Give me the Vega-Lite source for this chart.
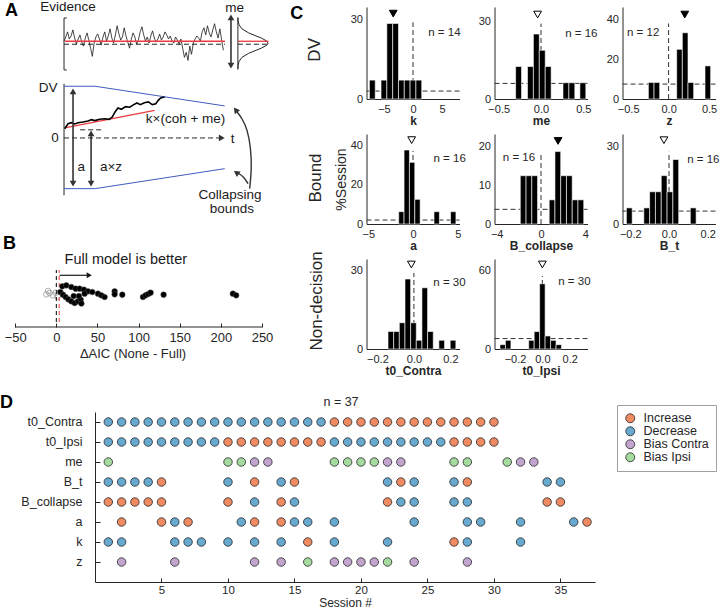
{
"$schema": "https://vega.github.io/schema/vega-lite/v6.json",
"padding": 0,
"background": "white",
"config": {
  "font": "Liberation Sans",
  "view": {"stroke": null},
  "axis": {"grid": false, "domainColor": "#262626", "labelColor": "#262626", "titleColor": "#262626", "tickColor": "#262626", "labelFlush": false, "labelOverlap": false, "ticks": false, "labelFontSize": 11, "titleFontSize": 12, "labelPadding": 4, "titlePadding": 1, "titleFontWeight": "bold"},
  "text": {"color": "#262626"}
},
"datasets": {
  "aev": [
    {"t":0,"v":95},{"t":1.1,"v":99},{"t":2.2,"v":104},{"t":3.3,"v":97},{"t":4.4,"v":100},{"t":5.5,"v":106},{"t":6.6,"v":98},{"t":7.7,"v":92},{"t":8.8,"v":97},{"t":9.9,"v":101},
    {"t":11,"v":94},{"t":12.1,"v":90},{"t":13.2,"v":98},{"t":14.3,"v":103},{"t":15.4,"v":96},{"t":16.5,"v":88},{"t":17.6,"v":80},{"t":18.7,"v":93},{"t":19.8,"v":99},{"t":20.9,"v":102},
    {"t":22,"v":97},{"t":23.1,"v":91},{"t":24.2,"v":99},{"t":25.3,"v":104},{"t":26.4,"v":95},{"t":27.5,"v":100},{"t":28.6,"v":107},{"t":29.7,"v":98},{"t":30.8,"v":93},{"t":31.9,"v":101},
    {"t":33,"v":110},{"t":34.1,"v":102},{"t":35.2,"v":96},{"t":36.3,"v":99},{"t":37.4,"v":108},{"t":38.5,"v":100},{"t":39.6,"v":94},{"t":40.7,"v":88},{"t":41.8,"v":97},{"t":42.9,"v":103},
    {"t":44,"v":99},{"t":45.1,"v":92},{"t":46.2,"v":96},{"t":47.3,"v":104},{"t":48.4,"v":109},{"t":49.5,"v":101},{"t":50.6,"v":95},{"t":51.7,"v":99},{"t":52.8,"v":93},{"t":53.9,"v":100},
    {"t":55,"v":105},{"t":56.1,"v":98},{"t":57.2,"v":94},{"t":58.3,"v":97},{"t":59.4,"v":102},{"t":60.5,"v":96},{"t":61.6,"v":99},{"t":62.7,"v":104},{"t":63.8,"v":101},{"t":64.9,"v":97},
    {"t":66,"v":100},{"t":67.1,"v":95},{"t":68.2,"v":93},{"t":69.3,"v":99},{"t":70.4,"v":96},{"t":71.5,"v":92},{"t":72.6,"v":97},{"t":73.7,"v":88},{"t":74.8,"v":79},{"t":75.9,"v":84},
    {"t":77,"v":76},{"t":78.1,"v":90},{"t":79.2,"v":82},{"t":80.3,"v":93},{"t":81.4,"v":97},{"t":82.5,"v":100},{"t":83.6,"v":98},{"t":84.7,"v":95},{"t":85.8,"v":104},{"t":86.9,"v":108},
    {"t":88,"v":101},{"t":89.1,"v":110},{"t":90.2,"v":103},{"t":91.3,"v":99},{"t":92.4,"v":106},{"t":93.5,"v":112},{"t":94.6,"v":104},{"t":95.7,"v":98},{"t":96.8,"v":107},{"t":97.9,"v":96},
    {"t":99,"v":86}
  ],
  "schem": [
    {"k":"thin","g":"br","i":0,"t":1.7,"y":117.6},{"k":"thin","g":"br","i":1,"t":0,"y":117.6},{"k":"thin","g":"br","i":2,"t":0,"y":66.7},{"k":"thin","g":"br","i":3,"t":1.7,"y":66.7},
    {"k":"thin","g":"dv","i":0,"t":0,"y":53.2},{"k":"thin","g":"dv","i":1,"t":0,"y":-56.2},
    {"k":"thin","g":"gv","i":0,"t":108,"y":118},{"k":"thin","g":"gv","i":1,"t":108,"y":67},
    {"k":"thin","g":"gc","i":0,"t":108,"y":118},{"k":"thin","g":"gc","i":1,"t":108.1,"y":115},{"k":"thin","g":"gc","i":2,"t":108.7,"y":111},{"k":"thin","g":"gc","i":3,"t":110.5,"y":107},{"k":"thin","g":"gc","i":4,"t":114.7,"y":103},{"k":"thin","g":"gc","i":5,"t":119.3,"y":100},{"k":"thin","g":"gc","i":6,"t":122.5,"y":98},{"k":"thin","g":"gc","i":7,"t":126,"y":95},{"k":"thin","g":"gc","i":8,"t":126.7,"y":93},{"k":"thin","g":"gc","i":9,"t":126,"y":91},{"k":"thin","g":"gc","i":10,"t":122.5,"y":88},{"k":"thin","g":"gc","i":11,"t":119.3,"y":86},{"k":"thin","g":"gc","i":12,"t":114.7,"y":83},{"k":"thin","g":"gc","i":13,"t":110.5,"y":79},{"k":"thin","g":"gc","i":14,"t":108.7,"y":75},{"k":"thin","g":"gc","i":15,"t":108.1,"y":71},{"k":"thin","g":"gc","i":16,"t":108,"y":68},
    {"k":"red","g":"evm","i":0,"t":0.6,"y":94.8},{"k":"red","g":"evm","i":1,"t":100,"y":94.8},
    {"k":"red","g":"gm","i":0,"t":108,"y":94.8},{"k":"red","g":"gm","i":1,"t":127,"y":94.8},
    {"k":"red","g":"dr","i":0,"t":0.4,"y":9.8},{"k":"red","g":"dr","i":1,"t":56.3,"y":27},
    {"k":"dash","g":"e0","i":0,"t":0,"y":91.9},{"k":"dash","g":"e0","i":1,"t":100,"y":91.9},
    {"k":"dash","g":"g0","i":0,"t":108,"y":91.9},{"k":"dash","g":"g0","i":1,"t":127,"y":91.9},
    {"k":"dash","g":"tx","i":0,"t":0,"y":0},{"k":"dash","g":"tx","i":1,"t":98,"y":0},
    {"k":"dash","g":"az","i":0,"t":10,"y":8},{"k":"dash","g":"az","i":1,"t":23,"y":8},
    {"k":"blue","g":"ub","i":0,"t":0,"y":50.7},{"k":"blue","g":"ub","i":1,"t":19.3,"y":50.7},{"k":"blue","g":"ub","i":2,"t":99.8,"y":31.4},
    {"k":"blue","g":"lb","i":0,"t":0,"y":-49.7},{"k":"blue","g":"lb","i":1,"t":19.3,"y":-49.7},{"k":"blue","g":"lb","i":2,"t":99.8,"y":-30.1},
    {"k":"traj","g":"tr","i":0,"t":0.4,"y":9.1},{"k":"traj","g":"tr","i":1,"t":2.5,"y":14},{"k":"traj","g":"tr","i":2,"t":4.5,"y":15},{"k":"traj","g":"tr","i":3,"t":6.6,"y":13.7},{"k":"traj","g":"tr","i":4,"t":8.7,"y":15},{"k":"traj","g":"tr","i":5,"t":11.8,"y":15.7},{"k":"traj","g":"tr","i":6,"t":14.9,"y":16.7},{"k":"traj","g":"tr","i":7,"t":17,"y":17.9},{"k":"traj","g":"tr","i":8,"t":19.1,"y":17},{"k":"traj","g":"tr","i":9,"t":22.2,"y":18.3},{"k":"traj","g":"tr","i":10,"t":25.3,"y":18.9},{"k":"traj","g":"tr","i":11,"t":28,"y":18.3},{"k":"traj","g":"tr","i":12,"t":30,"y":20.6},{"k":"traj","g":"tr","i":13,"t":31.7,"y":25.5},{"k":"traj","g":"tr","i":14,"t":33.5,"y":29.4},{"k":"traj","g":"tr","i":15,"t":35.6,"y":28.1},{"k":"traj","g":"tr","i":16,"t":38.3,"y":30.7},{"k":"traj","g":"tr","i":17,"t":40.8,"y":30.1},{"k":"traj","g":"tr","i":18,"t":43.3,"y":32.7},{"k":"traj","g":"tr","i":19,"t":45.3,"y":34.3},{"k":"traj","g":"tr","i":20,"t":47.4,"y":32.7},{"k":"traj","g":"tr","i":21,"t":49.9,"y":34.6},{"k":"traj","g":"tr","i":22,"t":52.4,"y":35.3},{"k":"traj","g":"tr","i":23,"t":54.8,"y":32.7},{"k":"traj","g":"tr","i":24,"t":57,"y":33.6},{"k":"traj","g":"tr","i":25,"t":58.4,"y":36.6},{"k":"traj","g":"tr","i":26,"t":60,"y":39.2},{"k":"traj","g":"tr","i":27,"t":62.5,"y":40.2},
    {"k":"arr","g":"me","i":0,"t":103.7,"y":70.9},{"k":"arr","g":"me","i":1,"t":103.7,"y":118.3},
    {"k":"arr","g":"a","i":0,"t":5.6,"y":45.7},{"k":"arr","g":"a","i":1,"t":5.6,"y":-44.7},
    {"k":"arr","g":"az2","i":0,"t":16.8,"y":4.5},{"k":"arr","g":"az2","i":1,"t":16.8,"y":-44.7},
    {"k":"curve","g":"cu","i":0,"t":115.3,"y":-49.7},{"k":"curve","g":"cu","i":1,"t":116.6,"y":-30},{"k":"curve","g":"cu","i":2,"t":116,"y":-10},{"k":"curve","g":"cu","i":3,"t":114,"y":8},{"k":"curve","g":"cu","i":4,"t":110.5,"y":19.5},{"k":"curve","g":"cu","i":5,"t":107.5,"y":25.5},
    {"k":"curve","g":"cl","i":0,"t":114.3,"y":-44.8},{"k":"curve","g":"cl","i":1,"t":111.5,"y":-38},{"k":"curve","g":"cl","i":2,"t":108.5,"y":-34.8}
  ],
  "heads": [
    {"t":103.7,"y":118.3,"ang":0},{"t":103.7,"y":70.9,"ang":180},
    {"t":5.6,"y":45.7,"ang":0},{"t":5.6,"y":-44.7,"ang":180},
    {"t":16.8,"y":4.5,"ang":0},{"t":16.8,"y":-44.7,"ang":180},
    {"t":98,"y":0,"ang":90},
    {"t":106.6,"y":27.5,"ang":322},{"t":107,"y":-34,"ang":303}
  ],
  "atext": [
    {"txt":"Evidence","t":2.5,"y":128.4},{"txt":"me","t":106,"y":127.5},{"txt":"DV","t":-9.9,"y":49},
    {"txt":"0","t":-5.6,"y":0},{"txt":"t","t":104.7,"y":-1.5},{"txt":"k×(coh + me)","t":75.5,"y":18.6},
    {"txt":"a","t":10.7,"y":-28.4},{"txt":"a×z","t":29.2,"y":-28.4},
    {"txt":"Collapsing","t":103.1,"y":-55.9},{"txt":"bounds","t":104.3,"y":-69.6}
  ],
  "aic": [
    {"d":7.3,"j":40.7,"full":true},{"d":12.1,"j":41.7,"full":true},{"d":18.2,"j":40,"full":true},{"d":23.5,"j":38.3,"full":true},{"d":28.3,"j":38.3,"full":true},{"d":33.6,"j":37.3,"full":true},{"d":38.5,"j":35.7,"full":true},{"d":43.7,"j":35,"full":true},{"d":50.6,"j":33.3,"full":true},{"d":54.7,"j":31.7,"full":true},{"d":58.7,"j":30,"full":true},{"d":70.9,"j":35.7,"full":true},{"d":70.9,"j":32.7,"full":true},{"d":80.2,"j":32.3,"full":true},{"d":105.3,"j":30,"full":true},{"d":108.5,"j":31.7,"full":true},{"d":111.7,"j":33,"full":true},{"d":114.6,"j":34.3,"full":true},{"d":130.4,"j":32.3,"full":true},{"d":214.6,"j":33.3,"full":true},{"d":218.6,"j":31.7,"full":true},
    {"d":4.9,"j":35,"full":true},{"d":8.1,"j":32.3,"full":true},{"d":11.3,"j":30,"full":true},{"d":14.6,"j":27.7,"full":true},{"d":18.2,"j":25.7,"full":true},{"d":22.3,"j":24,"full":true},{"d":26.3,"j":25.7,"full":true},{"d":29.6,"j":27.3,"full":true},{"d":30.5,"j":23.5,"full":true},{"d":21.1,"j":31,"full":true},{"d":27.5,"j":31,"full":true},{"d":34.4,"j":33.3,"full":true},
    {"d":-12.1,"j":32.7,"full":false},{"d":-8.1,"j":34,"full":false},{"d":-4,"j":31.7,"full":false},{"d":-0.8,"j":34.3,"full":false},{"d":-10,"j":36,"full":false},{"d":1.5,"j":30.5,"full":false}
  ],
  "hist": [
    {"p":"k","lo":-7.5,"hi":-6.5,"pct":7.14},{"p":"k","lo":-5.5,"hi":-4.5,"pct":7.14},{"p":"k","lo":-4.5,"hi":-3.5,"pct":28.57},{"p":"k","lo":-3.5,"hi":-2.5,"pct":28.57},{"p":"k","lo":-2.5,"hi":-1.5,"pct":7.14},{"p":"k","lo":-1.5,"hi":-0.5,"pct":7.14},{"p":"k","lo":-0.5,"hi":0.5,"pct":7.14},{"p":"k","lo":0.5,"hi":1.5,"pct":7.14},
    {"p":"me","lo":-0.3,"hi":-0.23,"pct":12.5},{"p":"me","lo":-0.16,"hi":-0.09,"pct":12.5},{"p":"me","lo":-0.09,"hi":-0.02,"pct":25},{"p":"me","lo":-0.02,"hi":0.05,"pct":18.75},{"p":"me","lo":0.05,"hi":0.12,"pct":12.5},{"p":"me","lo":0.26,"hi":0.33,"pct":6.25},{"p":"me","lo":0.33,"hi":0.4,"pct":6.25},{"p":"me","lo":0.46,"hi":0.53,"pct":6.25},
    {"p":"z","lo":-0.25,"hi":-0.18,"pct":8.33},{"p":"z","lo":-0.18,"hi":-0.11,"pct":8.33},{"p":"z","lo":0.1,"hi":0.17,"pct":25},{"p":"z","lo":0.17,"hi":0.24,"pct":33.33},{"p":"z","lo":0.24,"hi":0.31,"pct":8.33},{"p":"z","lo":0.45,"hi":0.52,"pct":16.67},
    {"p":"a","lo":-1.6,"hi":-1,"pct":6.25},{"p":"a","lo":-1,"hi":-0.4,"pct":37.5},{"p":"a","lo":-0.4,"hi":0.2,"pct":31.25},{"p":"a","lo":0.2,"hi":0.8,"pct":12.5},{"p":"a","lo":2.35,"hi":2.95,"pct":6.25},{"p":"a","lo":4.2,"hi":4.8,"pct":6.25},
    {"p":"B_collapse","lo":-1.87,"hi":-1.35,"pct":12.5},{"p":"B_collapse","lo":-1.35,"hi":-0.83,"pct":12.5},{"p":"B_collapse","lo":-0.83,"hi":-0.31,"pct":12.5},{"p":"B_collapse","lo":0.74,"hi":1.26,"pct":6.25},{"p":"B_collapse","lo":1.26,"hi":1.78,"pct":18.75},{"p":"B_collapse","lo":1.78,"hi":2.3,"pct":12.5},{"p":"B_collapse","lo":2.3,"hi":2.82,"pct":12.5},{"p":"B_collapse","lo":2.82,"hi":3.34,"pct":6.25},{"p":"B_collapse","lo":3.34,"hi":3.86,"pct":6.25},
    {"p":"B_t","lo":-0.22,"hi":-0.19,"pct":6.25},{"p":"B_t","lo":-0.13,"hi":-0.1,"pct":6.25},{"p":"B_t","lo":-0.1,"hi":-0.07,"pct":12.5},{"p":"B_t","lo":-0.07,"hi":-0.04,"pct":12.5},{"p":"B_t","lo":-0.04,"hi":-0.01,"pct":18.75},{"p":"B_t","lo":-0.01,"hi":0.02,"pct":12.5},{"p":"B_t","lo":0.02,"hi":0.05,"pct":25},{"p":"B_t","lo":0.11,"hi":0.14,"pct":6.25},
    {"p":"t0_Contra","lo":-0.142,"hi":-0.111,"pct":6.67},{"p":"t0_Contra","lo":-0.111,"hi":-0.08,"pct":6.67},{"p":"t0_Contra","lo":-0.08,"hi":-0.049,"pct":10},{"p":"t0_Contra","lo":-0.049,"hi":-0.018,"pct":26.67},{"p":"t0_Contra","lo":-0.018,"hi":0.013,"pct":10},{"p":"t0_Contra","lo":0.013,"hi":0.044,"pct":3.33},{"p":"t0_Contra","lo":0.044,"hi":0.075,"pct":23.33},{"p":"t0_Contra","lo":0.075,"hi":0.106,"pct":6.67},{"p":"t0_Contra","lo":0.137,"hi":0.168,"pct":3.33},{"p":"t0_Contra","lo":0.199,"hi":0.23,"pct":3.33},
    {"p":"t0_Ipsi","lo":-0.31,"hi":-0.27,"pct":3.33},{"p":"t0_Ipsi","lo":-0.27,"hi":-0.23,"pct":6.67},{"p":"t0_Ipsi","lo":-0.1,"hi":-0.06,"pct":6.67},{"p":"t0_Ipsi","lo":-0.06,"hi":-0.02,"pct":13.33},{"p":"t0_Ipsi","lo":-0.02,"hi":0.02,"pct":50},{"p":"t0_Ipsi","lo":0.02,"hi":0.06,"pct":10},{"p":"t0_Ipsi","lo":0.06,"hi":0.1,"pct":6.67},{"p":"t0_Ipsi","lo":0.1,"hi":0.14,"pct":3.33}
  ],
  "stats": [
    {"p":"k","label":"n = 14","med":-3.4,"sig":true,"ch":3},
    {"p":"me","label":"n = 16","med":-0.04,"sig":false,"ch":6},
    {"p":"z","label":"n = 12","med":0.2,"sig":true,"ch":7.5},
    {"p":"a","label":"n = 16","med":-0.15,"sig":false,"ch":2},
    {"p":"B_collapse","label":"n = 16","med":1.54,"sig":true,"ch":3.8},
    {"p":"B_t","label":"n = 16","med":-0.026,"sig":false,"ch":5},
    {"p":"t0_Contra","label":"n = 30","med":-0.014,"sig":false,"ch":null},
    {"p":"t0_Ipsi","label":"n = 30","med":0,"sig":false,"ch":8}
  ],
  "sess": [
    {"p":"t0_Contra","s":1,"c":"Decrease"},{"p":"t0_Contra","s":2,"c":"Decrease"},{"p":"t0_Contra","s":3,"c":"Decrease"},{"p":"t0_Contra","s":4,"c":"Decrease"},{"p":"t0_Contra","s":5,"c":"Decrease"},{"p":"t0_Contra","s":6,"c":"Decrease"},{"p":"t0_Contra","s":7,"c":"Decrease"},{"p":"t0_Contra","s":8,"c":"Decrease"},{"p":"t0_Contra","s":9,"c":"Decrease"},{"p":"t0_Contra","s":10,"c":"Decrease"},{"p":"t0_Contra","s":11,"c":"Decrease"},{"p":"t0_Contra","s":12,"c":"Decrease"},{"p":"t0_Contra","s":13,"c":"Decrease"},{"p":"t0_Contra","s":14,"c":"Decrease"},{"p":"t0_Contra","s":15,"c":"Decrease"},{"p":"t0_Contra","s":16,"c":"Decrease"},{"p":"t0_Contra","s":17,"c":"Decrease"},{"p":"t0_Contra","s":18,"c":"Increase"},{"p":"t0_Contra","s":19,"c":"Increase"},{"p":"t0_Contra","s":20,"c":"Increase"},{"p":"t0_Contra","s":21,"c":"Increase"},{"p":"t0_Contra","s":22,"c":"Increase"},{"p":"t0_Contra","s":23,"c":"Increase"},{"p":"t0_Contra","s":24,"c":"Increase"},{"p":"t0_Contra","s":25,"c":"Increase"},{"p":"t0_Contra","s":26,"c":"Increase"},{"p":"t0_Contra","s":27,"c":"Increase"},{"p":"t0_Contra","s":28,"c":"Increase"},{"p":"t0_Contra","s":29,"c":"Increase"},{"p":"t0_Contra","s":30,"c":"Increase"},
    {"p":"t0_Ipsi","s":1,"c":"Decrease"},{"p":"t0_Ipsi","s":2,"c":"Decrease"},{"p":"t0_Ipsi","s":3,"c":"Decrease"},{"p":"t0_Ipsi","s":4,"c":"Decrease"},{"p":"t0_Ipsi","s":5,"c":"Decrease"},{"p":"t0_Ipsi","s":6,"c":"Decrease"},{"p":"t0_Ipsi","s":7,"c":"Decrease"},{"p":"t0_Ipsi","s":8,"c":"Decrease"},{"p":"t0_Ipsi","s":9,"c":"Decrease"},{"p":"t0_Ipsi","s":10,"c":"Increase"},{"p":"t0_Ipsi","s":11,"c":"Increase"},{"p":"t0_Ipsi","s":12,"c":"Increase"},{"p":"t0_Ipsi","s":13,"c":"Increase"},{"p":"t0_Ipsi","s":14,"c":"Increase"},{"p":"t0_Ipsi","s":15,"c":"Increase"},{"p":"t0_Ipsi","s":16,"c":"Increase"},{"p":"t0_Ipsi","s":17,"c":"Increase"},{"p":"t0_Ipsi","s":18,"c":"Decrease"},{"p":"t0_Ipsi","s":19,"c":"Decrease"},{"p":"t0_Ipsi","s":20,"c":"Decrease"},{"p":"t0_Ipsi","s":21,"c":"Decrease"},{"p":"t0_Ipsi","s":22,"c":"Decrease"},{"p":"t0_Ipsi","s":23,"c":"Decrease"},{"p":"t0_Ipsi","s":24,"c":"Decrease"},{"p":"t0_Ipsi","s":25,"c":"Decrease"},{"p":"t0_Ipsi","s":26,"c":"Decrease"},{"p":"t0_Ipsi","s":27,"c":"Increase"},{"p":"t0_Ipsi","s":28,"c":"Increase"},{"p":"t0_Ipsi","s":29,"c":"Increase"},{"p":"t0_Ipsi","s":30,"c":"Increase"},
    {"p":"me","s":1,"c":"Bias Ipsi"},{"p":"me","s":10,"c":"Bias Ipsi"},{"p":"me","s":11,"c":"Bias Ipsi"},{"p":"me","s":12,"c":"Bias Contra"},{"p":"me","s":13,"c":"Bias Contra"},{"p":"me","s":18,"c":"Bias Ipsi"},{"p":"me","s":19,"c":"Bias Ipsi"},{"p":"me","s":20,"c":"Bias Ipsi"},{"p":"me","s":21,"c":"Bias Ipsi"},{"p":"me","s":22,"c":"Bias Contra"},{"p":"me","s":23,"c":"Bias Contra"},{"p":"me","s":27,"c":"Bias Ipsi"},{"p":"me","s":28,"c":"Bias Ipsi"},{"p":"me","s":31,"c":"Bias Ipsi"},{"p":"me","s":32,"c":"Bias Contra"},{"p":"me","s":33,"c":"Bias Contra"},
    {"p":"B_t","s":1,"c":"Decrease"},{"p":"B_t","s":2,"c":"Decrease"},{"p":"B_t","s":3,"c":"Decrease"},{"p":"B_t","s":4,"c":"Decrease"},{"p":"B_t","s":5,"c":"Increase"},{"p":"B_t","s":10,"c":"Decrease"},{"p":"B_t","s":12,"c":"Increase"},{"p":"B_t","s":14,"c":"Decrease"},{"p":"B_t","s":15,"c":"Increase"},{"p":"B_t","s":22,"c":"Decrease"},{"p":"B_t","s":23,"c":"Increase"},{"p":"B_t","s":24,"c":"Decrease"},{"p":"B_t","s":27,"c":"Decrease"},{"p":"B_t","s":28,"c":"Increase"},{"p":"B_t","s":34,"c":"Decrease"},{"p":"B_t","s":35,"c":"Decrease"},
    {"p":"B_collapse","s":1,"c":"Increase"},{"p":"B_collapse","s":2,"c":"Increase"},{"p":"B_collapse","s":3,"c":"Increase"},{"p":"B_collapse","s":4,"c":"Increase"},{"p":"B_collapse","s":5,"c":"Increase"},{"p":"B_collapse","s":10,"c":"Increase"},{"p":"B_collapse","s":12,"c":"Decrease"},{"p":"B_collapse","s":14,"c":"Increase"},{"p":"B_collapse","s":15,"c":"Decrease"},{"p":"B_collapse","s":22,"c":"Increase"},{"p":"B_collapse","s":23,"c":"Decrease"},{"p":"B_collapse","s":24,"c":"Decrease"},{"p":"B_collapse","s":27,"c":"Decrease"},{"p":"B_collapse","s":28,"c":"Decrease"},{"p":"B_collapse","s":34,"c":"Increase"},{"p":"B_collapse","s":35,"c":"Increase"},
    {"p":"a","s":2,"c":"Increase"},{"p":"a","s":5,"c":"Increase"},{"p":"a","s":6,"c":"Decrease"},{"p":"a","s":7,"c":"Increase"},{"p":"a","s":11,"c":"Decrease"},{"p":"a","s":12,"c":"Increase"},{"p":"a","s":14,"c":"Increase"},{"p":"a","s":15,"c":"Decrease"},{"p":"a","s":16,"c":"Decrease"},{"p":"a","s":18,"c":"Decrease"},{"p":"a","s":24,"c":"Decrease"},{"p":"a","s":28,"c":"Decrease"},{"p":"a","s":29,"c":"Decrease"},{"p":"a","s":32,"c":"Decrease"},{"p":"a","s":36,"c":"Decrease"},{"p":"a","s":37,"c":"Increase"},
    {"p":"k","s":1,"c":"Decrease"},{"p":"k","s":2,"c":"Decrease"},{"p":"k","s":6,"c":"Decrease"},{"p":"k","s":7,"c":"Decrease"},{"p":"k","s":8,"c":"Decrease"},{"p":"k","s":10,"c":"Decrease"},{"p":"k","s":12,"c":"Decrease"},{"p":"k","s":14,"c":"Decrease"},{"p":"k","s":16,"c":"Increase"},{"p":"k","s":18,"c":"Decrease"},{"p":"k","s":22,"c":"Decrease"},{"p":"k","s":27,"c":"Increase"},{"p":"k","s":28,"c":"Decrease"},{"p":"k","s":32,"c":"Decrease"},
    {"p":"z","s":2,"c":"Bias Contra"},{"p":"z","s":6,"c":"Bias Contra"},{"p":"z","s":12,"c":"Bias Contra"},{"p":"z","s":14,"c":"Bias Contra"},{"p":"z","s":16,"c":"Bias Ipsi"},{"p":"z","s":18,"c":"Bias Contra"},{"p":"z","s":19,"c":"Bias Contra"},{"p":"z","s":20,"c":"Bias Contra"},{"p":"z","s":21,"c":"Bias Contra"},{"p":"z","s":22,"c":"Bias Ipsi"},{"p":"z","s":24,"c":"Bias Contra"},{"p":"z","s":28,"c":"Bias Contra"}
  ]
},
"spacing": 18,
"vconcat": [
 {
  "spacing": 2.5,
  "hconcat": [
   {
    "spacing": 6,
    "bounds": "flush",
    "vconcat": [
     {
      "width": 284, "height": 225,
      "layer": [
       {"data": {"name": "schem"}, "transform": [{"filter": "datum.k == 'thin'"}], "mark": {"type": "line", "color": "#262626", "strokeWidth": 1}, "encoding": {"x": {"field": "t", "type": "quantitative", "scale": {"domain": [-37.9, 138.5], "nice": false, "zero": false}, "axis": null}, "y": {"field": "y", "type": "quantitative", "scale": {"domain": [-92.2, 128.4], "nice": false, "zero": false}, "axis": null}, "detail": {"field": "g"}, "order": {"field": "i"}}},
       {"data": {"name": "schem"}, "transform": [{"filter": "datum.k == 'dash'"}], "mark": {"type": "line", "color": "#262626", "strokeWidth": 1, "strokeDash": [5, 3]}, "encoding": {"x": {"field": "t", "type": "quantitative"}, "y": {"field": "y", "type": "quantitative"}, "detail": {"field": "g"}, "order": {"field": "i"}}},
       {"data": {"name": "aev"}, "mark": {"type": "line", "color": "#1a1a1a", "strokeWidth": 0.8}, "encoding": {"x": {"field": "t", "type": "quantitative"}, "y": {"field": "v", "type": "quantitative"}}},
       {"data": {"name": "schem"}, "transform": [{"filter": "datum.k == 'red'"}], "mark": {"type": "line", "color": "#ec3a3f", "strokeWidth": 1.3}, "encoding": {"x": {"field": "t", "type": "quantitative"}, "y": {"field": "y", "type": "quantitative"}, "detail": {"field": "g"}, "order": {"field": "i"}}},
       {"data": {"name": "schem"}, "transform": [{"filter": "datum.k == 'blue'"}], "mark": {"type": "line", "color": "#3f5bbf", "strokeWidth": 1}, "encoding": {"x": {"field": "t", "type": "quantitative"}, "y": {"field": "y", "type": "quantitative"}, "detail": {"field": "g"}, "order": {"field": "i"}}},
       {"data": {"name": "schem"}, "transform": [{"filter": "datum.k == 'traj'"}], "mark": {"type": "line", "color": "black", "strokeWidth": 1.6}, "encoding": {"x": {"field": "t", "type": "quantitative"}, "y": {"field": "y", "type": "quantitative"}, "detail": {"field": "g"}, "order": {"field": "i"}}},
       {"data": {"name": "schem"}, "transform": [{"filter": "datum.k == 'arr'"}], "mark": {"type": "line", "color": "#333333", "strokeWidth": 1.6}, "encoding": {"x": {"field": "t", "type": "quantitative"}, "y": {"field": "y", "type": "quantitative"}, "detail": {"field": "g"}, "order": {"field": "i"}}},
       {"data": {"name": "schem"}, "transform": [{"filter": "datum.k == 'curve'"}], "mark": {"type": "line", "color": "#333333", "strokeWidth": 1.4, "interpolate": "basis"}, "encoding": {"x": {"field": "t", "type": "quantitative"}, "y": {"field": "y", "type": "quantitative"}, "detail": {"field": "g"}, "order": {"field": "i"}}},
       {"data": {"name": "heads"}, "mark": {"type": "point", "shape": "triangle-up", "filled": true, "color": "#333333", "size": 45, "opacity": 1}, "encoding": {"x": {"field": "t", "type": "quantitative"}, "y": {"field": "y", "type": "quantitative"}, "angle": {"field": "ang", "type": "quantitative", "scale": null}}},
       {"data": {"name": "atext"}, "mark": {"type": "text", "fontSize": 13.5, "align": "center", "baseline": "middle", "color": "#1a1a1a"}, "encoding": {"x": {"field": "t", "type": "quantitative"}, "y": {"field": "y", "type": "quantitative"}, "text": {"field": "txt"}}},
       {"data": {"values": [{}]}, "mark": {"type": "text", "text": "A", "fontSize": 18, "fontWeight": "bold", "align": "left", "baseline": "middle", "color": "black"}, "encoding": {"x": {"datum": -36.6, "type": "quantitative"}, "y": {"datum": 124.5, "type": "quantitative"}}}
      ]
     },
     {
      "width": 259, "height": 89,
      "layer": [
       {"data": {"name": "aic"}, "transform": [{"filter": "!datum.full"}], "mark": {"type": "point", "size": 32, "stroke": "#9a9a9a", "strokeWidth": 0.8, "fill": "white", "fillOpacity": 0, "opacity": 1}, "encoding": {"x": {"field": "d", "type": "quantitative", "scale": {"domain": [-64.8, 250], "nice": false, "zero": false}, "axis": {"values": [-50, 0, 50, 100, 150, 200, 250], "domain": false, "ticks": true, "tickSize": -4, "labelPadding": 8, "labelFontSize": 13, "title": "ΔAIC (None - Full)", "titleFontSize": 13, "titleFontWeight": "normal", "titlePadding": 3}}, "y": {"field": "j", "type": "quantitative", "scale": {"domain": [0, 89], "nice": false, "zero": false}, "axis": null}}},
       {"data": {"values": [{}]}, "mark": {"type": "rule", "color": "#262626", "strokeWidth": 1}, "encoding": {"x": {"datum": -50, "type": "quantitative"}, "x2": {"datum": 250}, "y": {"datum": 0, "type": "quantitative"}}},
       {"data": {"values": [{}]}, "mark": {"type": "rule", "strokeDash": [4, 3], "color": "black", "strokeWidth": 1}, "encoding": {"x": {"datum": 0, "type": "quantitative"}, "y": {"datum": 5, "type": "quantitative"}, "y2": {"datum": 57}}},
       {"data": {"values": [{}]}, "mark": {"type": "rule", "strokeDash": [4, 3], "color": "#ec3a3f", "strokeWidth": 1}, "encoding": {"x": {"datum": 3.5, "type": "quantitative"}, "y": {"datum": 5, "type": "quantitative"}, "y2": {"datum": 57}}},
       {"data": {"name": "aic"}, "transform": [{"filter": "datum.full"}], "mark": {"type": "point", "size": 32, "filled": true, "color": "black", "stroke": "#555555", "strokeWidth": 0.5, "opacity": 1}, "encoding": {"x": {"field": "d", "type": "quantitative"}, "y": {"field": "j", "type": "quantitative"}}},
       {"data": {"values": [{}]}, "mark": {"type": "rule", "color": "#1a1a1a", "strokeWidth": 1.2}, "encoding": {"x": {"datum": 4, "type": "quantitative"}, "x2": {"datum": 38}, "y": {"datum": 51.7, "type": "quantitative"}}},
       {"data": {"values": [{}]}, "mark": {"type": "point", "shape": "triangle-right", "filled": true, "color": "#1a1a1a", "size": 35, "opacity": 1}, "encoding": {"x": {"datum": 40, "type": "quantitative"}, "y": {"datum": 51.7, "type": "quantitative"}}},
       {"data": {"values": [{}]}, "mark": {"type": "text", "text": "Full model is better", "fontSize": 14.5, "align": "left", "baseline": "middle", "color": "#1a1a1a"}, "encoding": {"x": {"datum": 10, "type": "quantitative"}, "y": {"datum": 67, "type": "quantitative"}}},
       {"data": {"values": [{}]}, "mark": {"type": "text", "text": "B", "fontSize": 18, "fontWeight": "bold", "align": "left", "baseline": "middle", "color": "black"}, "encoding": {"x": {"datum": -64.8, "type": "quantitative"}, "y": {"datum": 83, "type": "quantitative"}}}
      ]
     }
    ]
   },
   {
    "columns": 3,
    "bounds": "flush",
    "spacing": {"row": 35, "column": 35},
    "concat": [
     {
      "width": 93, "height": 92, "data": {"name": "stats"},
      "layer": [
       {"transform": [{"filter": "datum.p == 'k'"}], "mark": {"type": "rule", "strokeDash": [5, 3], "color": "#333333", "strokeWidth": 1}, "encoding": {"y": {"field": "ch", "type": "quantitative"}}},
       {"transform": [{"filter": "datum.p == 'k'"}], "mark": {"type": "rule", "strokeDash": [5, 3], "color": "#333333", "strokeWidth": 1}, "encoding": {"x": {"datum": 0, "type": "quantitative"}, "y": {"datum": 0, "type": "quantitative"}, "y2": {"datum": 29}}},
       {"data": {"name": "hist"}, "transform": [{"filter": "datum.p == 'k'"}], "mark": {"type": "rect", "fill": "black", "stroke": "white", "strokeWidth": 0.6}, "encoding": {"x": {"field": "lo", "type": "quantitative", "scale": {"domain": [-8, 8], "nice": false, "zero": false}, "axis": {"values": [-5, 0, 5], "title": "k"}}, "x2": {"field": "hi"}, "y": {"field": "pct", "type": "quantitative", "scale": {"domain": [0, 34.8], "nice": false}, "axis": {"values": [0, 10, 20, 30], "title": null}}, "y2": {"datum": 0}}},
       {"transform": [{"filter": "datum.p == 'k'"}], "mark": {"type": "point", "shape": "triangle-down", "size": 60, "stroke": "black", "strokeWidth": 1, "opacity": 1}, "encoding": {"x": {"field": "med", "type": "quantitative"}, "y": {"datum": 32.3, "type": "quantitative"}, "fill": {"condition": {"test": "datum.sig", "value": "black"}, "value": "white"}}},
       {"transform": [{"filter": "datum.p == 'k'"}], "mark": {"type": "text", "fontSize": 11.5}, "encoding": {"x": {"datum": 5.4, "type": "quantitative"}, "y": {"datum": 25, "type": "quantitative"}, "text": {"field": "label"}}},
       {"transform": [{"filter": "datum.p == 'k'"}], "mark": {"type": "text", "text": "C", "fontSize": 18, "fontWeight": "bold", "align": "center", "baseline": "top", "color": "black"}, "encoding": {"x": {"datum": -20, "type": "quantitative"}, "y": {"datum": 35.56, "type": "quantitative"}}},
       {"transform": [{"filter": "datum.p == 'k'"}], "mark": {"type": "text", "text": "DV", "fontSize": 17, "angle": 270, "align": "center", "baseline": "middle"}, "encoding": {"x": {"datum": -16.8, "type": "quantitative"}, "y": {"datum": 18.6, "type": "quantitative"}}}
      ]
     },
     {
      "width": 93, "height": 92, "data": {"name": "stats"},
      "layer": [
       {"transform": [{"filter": "datum.p == 'me'"}], "mark": {"type": "rule", "strokeDash": [5, 3], "color": "#333333", "strokeWidth": 1}, "encoding": {"y": {"field": "ch", "type": "quantitative"}}},
       {"transform": [{"filter": "datum.p == 'me'"}], "mark": {"type": "rule", "strokeDash": [5, 3], "color": "#333333", "strokeWidth": 1}, "encoding": {"x": {"datum": 0, "type": "quantitative"}, "y": {"datum": 0, "type": "quantitative"}, "y2": {"datum": 29}}},
       {"data": {"name": "hist"}, "transform": [{"filter": "datum.p == 'me'"}], "mark": {"type": "rect", "fill": "black", "stroke": "white", "strokeWidth": 0.6}, "encoding": {"x": {"field": "lo", "type": "quantitative", "scale": {"domain": [-0.55, 0.55], "nice": false, "zero": false}, "axis": {"values": [-0.5, 0, 0.5], "title": "me"}}, "x2": {"field": "hi"}, "y": {"field": "pct", "type": "quantitative", "scale": {"domain": [0, 35.4], "nice": false}, "axis": {"values": [0, 10, 20, 30], "title": null}}, "y2": {"datum": 0}}},
       {"transform": [{"filter": "datum.p == 'me'"}], "mark": {"type": "point", "shape": "triangle-down", "size": 60, "stroke": "black", "strokeWidth": 1, "opacity": 1}, "encoding": {"x": {"field": "med", "type": "quantitative"}, "y": {"datum": 32.5, "type": "quantitative"}, "fill": {"condition": {"test": "datum.sig", "value": "black"}, "value": "white"}}},
       {"transform": [{"filter": "datum.p == 'me'"}], "mark": {"type": "text", "fontSize": 11.5}, "encoding": {"x": {"datum": 0.477, "type": "quantitative"}, "y": {"datum": 25, "type": "quantitative"}, "text": {"field": "label"}}}
      ]
     },
     {
      "width": 93, "height": 92, "data": {"name": "stats"},
      "layer": [
       {"transform": [{"filter": "datum.p == 'z'"}], "mark": {"type": "rule", "strokeDash": [5, 3], "color": "#333333", "strokeWidth": 1}, "encoding": {"y": {"field": "ch", "type": "quantitative"}}},
       {"transform": [{"filter": "datum.p == 'z'"}], "mark": {"type": "rule", "strokeDash": [5, 3], "color": "#333333", "strokeWidth": 1}, "encoding": {"x": {"datum": 0, "type": "quantitative"}, "y": {"datum": 0, "type": "quantitative"}, "y2": {"datum": 38}}},
       {"data": {"name": "hist"}, "transform": [{"filter": "datum.p == 'z'"}], "mark": {"type": "rect", "fill": "black", "stroke": "white", "strokeWidth": 0.6}, "encoding": {"x": {"field": "lo", "type": "quantitative", "scale": {"domain": [-0.57, 0.58], "nice": false, "zero": false}, "axis": {"values": [-0.5, 0, 0.5], "title": "z"}}, "x2": {"field": "hi"}, "y": {"field": "pct", "type": "quantitative", "scale": {"domain": [0, 46.3], "nice": false}, "axis": {"values": [0, 20, 40], "title": null}}, "y2": {"datum": 0}}},
       {"transform": [{"filter": "datum.p == 'z'"}], "mark": {"type": "point", "shape": "triangle-down", "size": 60, "stroke": "black", "strokeWidth": 1, "opacity": 1}, "encoding": {"x": {"field": "med", "type": "quantitative"}, "y": {"datum": 42.5, "type": "quantitative"}, "fill": {"condition": {"test": "datum.sig", "value": "black"}, "value": "white"}}},
       {"transform": [{"filter": "datum.p == 'z'"}], "mark": {"type": "text", "fontSize": 11.5}, "encoding": {"x": {"datum": -0.315, "type": "quantitative"}, "y": {"datum": 33.3, "type": "quantitative"}, "text": {"field": "label"}}}
      ]
     },
     {
      "width": 93, "height": 90, "data": {"name": "stats"},
      "layer": [
       {"transform": [{"filter": "datum.p == 'a'"}], "mark": {"type": "rule", "strokeDash": [5, 3], "color": "#333333", "strokeWidth": 1}, "encoding": {"y": {"field": "ch", "type": "quantitative"}}},
       {"transform": [{"filter": "datum.p == 'a'"}], "mark": {"type": "rule", "strokeDash": [5, 3], "color": "#333333", "strokeWidth": 1}, "encoding": {"x": {"datum": 0, "type": "quantitative"}, "y": {"datum": 0, "type": "quantitative"}, "y2": {"datum": 37}}},
       {"data": {"name": "hist"}, "transform": [{"filter": "datum.p == 'a'"}], "mark": {"type": "rect", "fill": "black", "stroke": "white", "strokeWidth": 0.6}, "encoding": {"x": {"field": "lo", "type": "quantitative", "scale": {"domain": [-5.2, 5.2], "nice": false, "zero": false}, "axis": {"values": [-5, 0, 5], "title": "a"}}, "x2": {"field": "hi"}, "y": {"field": "pct", "type": "quantitative", "scale": {"domain": [0, 45.6], "nice": false}, "axis": {"values": [0, 20, 40], "title": "%Session", "titleFontSize": 14, "titleFontWeight": "normal", "titlePadding": 2}}, "y2": {"datum": 0}}},
       {"transform": [{"filter": "datum.p == 'a'"}], "mark": {"type": "point", "shape": "triangle-down", "size": 60, "stroke": "black", "strokeWidth": 1, "opacity": 1}, "encoding": {"x": {"field": "med", "type": "quantitative"}, "y": {"datum": 42.5, "type": "quantitative"}, "fill": {"condition": {"test": "datum.sig", "value": "black"}, "value": "white"}}},
       {"transform": [{"filter": "datum.p == 'a'"}], "mark": {"type": "text", "fontSize": 11.5}, "encoding": {"x": {"datum": 4.1, "type": "quantitative"}, "y": {"datum": 32.9, "type": "quantitative"}, "text": {"field": "label"}}},
       {"transform": [{"filter": "datum.p == 'a'"}], "mark": {"type": "text", "text": "Bound", "fontSize": 17, "angle": 270, "align": "center", "baseline": "middle"}, "encoding": {"x": {"datum": -10.8, "type": "quantitative"}, "y": {"datum": 23.3, "type": "quantitative"}}}
      ]
     },
     {
      "width": 93, "height": 90, "data": {"name": "stats"},
      "layer": [
       {"transform": [{"filter": "datum.p == 'B_collapse'"}], "mark": {"type": "rule", "strokeDash": [5, 3], "color": "#333333", "strokeWidth": 1}, "encoding": {"y": {"field": "ch", "type": "quantitative"}}},
       {"transform": [{"filter": "datum.p == 'B_collapse'"}], "mark": {"type": "rule", "strokeDash": [5, 3], "color": "#333333", "strokeWidth": 1}, "encoding": {"x": {"datum": 0, "type": "quantitative"}, "y": {"datum": 0, "type": "quantitative"}, "y2": {"datum": 18}}},
       {"data": {"name": "hist"}, "transform": [{"filter": "datum.p == 'B_collapse'"}], "mark": {"type": "rect", "fill": "black", "stroke": "white", "strokeWidth": 0.6}, "encoding": {"x": {"field": "lo", "type": "quantitative", "scale": {"domain": [-4.2, 4.2], "nice": false, "zero": false}, "axis": {"values": [-4, -2, 0, 2, 4], "title": "B_collapse"}}, "x2": {"field": "hi"}, "y": {"field": "pct", "type": "quantitative", "scale": {"domain": [0, 23.3], "nice": false}, "axis": {"values": [0, 10, 20], "title": null}}, "y2": {"datum": 0}}},
       {"transform": [{"filter": "datum.p == 'B_collapse'"}], "mark": {"type": "point", "shape": "triangle-down", "size": 60, "stroke": "black", "strokeWidth": 1, "opacity": 1}, "encoding": {"x": {"field": "med", "type": "quantitative"}, "y": {"datum": 21.5, "type": "quantitative"}, "fill": {"condition": {"test": "datum.sig", "value": "black"}, "value": "white"}}},
       {"transform": [{"filter": "datum.p == 'B_collapse'"}], "mark": {"type": "text", "fontSize": 11.5}, "encoding": {"x": {"datum": -1.99, "type": "quantitative"}, "y": {"datum": 17, "type": "quantitative"}, "text": {"field": "label"}}}
      ]
     },
     {
      "width": 93, "height": 90, "data": {"name": "stats"},
      "layer": [
       {"transform": [{"filter": "datum.p == 'B_t'"}], "mark": {"type": "rule", "strokeDash": [5, 3], "color": "#333333", "strokeWidth": 1}, "encoding": {"y": {"field": "ch", "type": "quantitative"}}},
       {"transform": [{"filter": "datum.p == 'B_t'"}], "mark": {"type": "rule", "strokeDash": [5, 3], "color": "#333333", "strokeWidth": 1}, "encoding": {"x": {"datum": 0, "type": "quantitative"}, "y": {"datum": 0, "type": "quantitative"}, "y2": {"datum": 28}}},
       {"data": {"name": "hist"}, "transform": [{"filter": "datum.p == 'B_t'"}], "mark": {"type": "rect", "fill": "black", "stroke": "white", "strokeWidth": 0.6}, "encoding": {"x": {"field": "lo", "type": "quantitative", "scale": {"domain": [-0.24, 0.24], "nice": false, "zero": false}, "axis": {"values": [-0.2, 0, 0.2], "title": "B_t"}}, "x2": {"field": "hi"}, "y": {"field": "pct", "type": "quantitative", "scale": {"domain": [0, 34.9], "nice": false}, "axis": {"values": [0, 10, 20, 30], "title": null}}, "y2": {"datum": 0}}},
       {"transform": [{"filter": "datum.p == 'B_t'"}], "mark": {"type": "point", "shape": "triangle-down", "size": 60, "stroke": "black", "strokeWidth": 1, "opacity": 1}, "encoding": {"x": {"field": "med", "type": "quantitative"}, "y": {"datum": 32.5, "type": "quantitative"}, "fill": {"condition": {"test": "datum.sig", "value": "black"}, "value": "white"}}},
       {"transform": [{"filter": "datum.p == 'B_t'"}], "mark": {"type": "text", "fontSize": 11.5}, "encoding": {"x": {"datum": 0.177, "type": "quantitative"}, "y": {"datum": 24.8, "type": "quantitative"}, "text": {"field": "label"}}}
      ]
     },
     {
      "width": 93, "height": 90, "data": {"name": "stats"},
      "layer": [
       {"transform": [{"filter": "datum.p == 't0_Contra'"}], "mark": {"type": "rule", "strokeDash": [5, 3], "color": "#333333", "strokeWidth": 1}, "encoding": {"x": {"datum": 0, "type": "quantitative"}, "y": {"datum": 0, "type": "quantitative"}, "y2": {"datum": 29}}},
       {"data": {"name": "hist"}, "transform": [{"filter": "datum.p == 't0_Contra'"}], "mark": {"type": "rect", "fill": "black", "stroke": "white", "strokeWidth": 0.6}, "encoding": {"x": {"field": "lo", "type": "quantitative", "scale": {"domain": [-0.26, 0.25], "nice": false, "zero": false}, "axis": {"values": [-0.2, 0, 0.2], "title": "t0_Contra"}}, "x2": {"field": "hi"}, "y": {"field": "pct", "type": "quantitative", "scale": {"domain": [0, 34.3], "nice": false}, "axis": {"values": [0, 10, 20, 30], "title": null}}, "y2": {"datum": 0}}},
       {"transform": [{"filter": "datum.p == 't0_Contra'"}], "mark": {"type": "point", "shape": "triangle-down", "size": 60, "stroke": "black", "strokeWidth": 1, "opacity": 1}, "encoding": {"x": {"field": "med", "type": "quantitative"}, "y": {"datum": 32.2, "type": "quantitative"}, "fill": {"condition": {"test": "datum.sig", "value": "black"}, "value": "white"}}},
       {"transform": [{"filter": "datum.p == 't0_Contra'"}], "mark": {"type": "text", "fontSize": 11.5}, "encoding": {"x": {"datum": 0.195, "type": "quantitative"}, "y": {"datum": 25.3, "type": "quantitative"}, "text": {"field": "label"}}},
       {"transform": [{"filter": "datum.p == 't0_Contra'"}], "mark": {"type": "text", "text": "Non-decision", "fontSize": 17, "angle": 270, "align": "center", "baseline": "middle"}, "encoding": {"x": {"datum": -0.534, "type": "quantitative"}, "y": {"datum": 18.3, "type": "quantitative"}}}
      ]
     },
     {
      "width": 93, "height": 90, "data": {"name": "stats"},
      "layer": [
       {"transform": [{"filter": "datum.p == 't0_Ipsi'"}], "mark": {"type": "rule", "strokeDash": [5, 3], "color": "#333333", "strokeWidth": 1}, "encoding": {"y": {"field": "ch", "type": "quantitative"}}},
       {"transform": [{"filter": "datum.p == 't0_Ipsi'"}], "mark": {"type": "rule", "strokeDash": [5, 3], "color": "#333333", "strokeWidth": 1}, "encoding": {"x": {"datum": 0, "type": "quantitative"}, "y": {"datum": 0, "type": "quantitative"}, "y2": {"datum": 56}}},
       {"data": {"name": "hist"}, "transform": [{"filter": "datum.p == 't0_Ipsi'"}], "mark": {"type": "rect", "fill": "black", "stroke": "white", "strokeWidth": 0.6}, "encoding": {"x": {"field": "lo", "type": "quantitative", "scale": {"domain": [-0.35, 0.33], "nice": false, "zero": false}, "axis": {"values": [-0.2, 0, 0.2], "title": "t0_Ipsi"}}, "x2": {"field": "hi"}, "y": {"field": "pct", "type": "quantitative", "scale": {"domain": [0, 69], "nice": false}, "axis": {"values": [0, 20, 40, 60], "title": null}}, "y2": {"datum": 0}}},
       {"transform": [{"filter": "datum.p == 't0_Ipsi'"}], "mark": {"type": "point", "shape": "triangle-down", "size": 60, "stroke": "black", "strokeWidth": 1, "opacity": 1}, "encoding": {"x": {"field": "med", "type": "quantitative"}, "y": {"datum": 64.8, "type": "quantitative"}, "fill": {"condition": {"test": "datum.sig", "value": "black"}, "value": "white"}}},
       {"transform": [{"filter": "datum.p == 't0_Ipsi'"}], "mark": {"type": "text", "fontSize": 11.5}, "encoding": {"x": {"datum": 0.234, "type": "quantitative"}, "y": {"datum": 51, "type": "quantitative"}, "text": {"field": "label"}}}
      ]
     }
    ]
   }
  ]
 },
 {
  "spacing": -4,
  "hconcat": [
   {"width": 1, "height": 1, "data": {"values": [{}]}, "mark": {"type": "point", "opacity": 0, "size": 0}, "encoding": {}},
   {
    "width": 500, "height": 170,
    "layer": [
     {
      "data": {"name": "sess"},
      "mark": {"type": "point", "filled": true, "size": 72, "stroke": "#262626", "strokeWidth": 0.8, "opacity": 1},
      "encoding": {
       "x": {"field": "s", "type": "quantitative", "scale": {"domain": [0, 37.6], "nice": false, "zero": false}, "axis": {"values": [5, 10, 15, 20, 25, 30, 35], "ticks": true, "tickSize": -4, "labelPadding": 6, "labelFontSize": 11.5, "title": "Session #", "titleFontSize": 12, "titleFontWeight": "normal", "titlePadding": 2}},
       "y": {"field": "p", "type": "nominal", "scale": {"type": "band", "domain": ["t0_Contra", "t0_Ipsi", "me", "B_t", "B_collapse", "a", "k", "z"], "paddingInner": 0, "paddingOuter": 0.25, "align": 0}, "axis": {"ticks": true, "tickSize": -5, "bandPosition": 0.5, "labelPadding": 18, "labelFontSize": 12.5, "title": null}},
       "color": {"field": "c", "type": "nominal", "scale": {"domain": ["Increase", "Decrease", "Bias Contra", "Bias Ipsi"], "range": ["#ef8a62", "#67a9cf", "#c2a5cf", "#a6dba0"]}, "legend": {"orient": "none", "legendX": 614, "legendY": 398, "title": null, "strokeColor": "#a0a0a0", "fillColor": "white", "padding": 7, "labelFontSize": 12.5, "labelColor": "#262626", "symbolType": "circle", "symbolSize": 80, "symbolStrokeColor": "#262626", "symbolStrokeWidth": 0.8, "rowPadding": 0, "labelOffset": 7}}
      }
     },
     {
      "data": {"values": [{}]},
      "mark": {"type": "text", "text": "n = 37", "fontSize": 12.5, "align": "center", "baseline": "middle", "yOffset": -20},
      "encoding": {"x": {"datum": 18.5, "type": "quantitative"}, "y": {"datum": "t0_Contra", "type": "nominal"}}
     },
     {
      "data": {"values": [{}]},
      "mark": {"type": "text", "text": "D", "fontSize": 18, "fontWeight": "bold", "align": "left", "baseline": "middle", "color": "black", "yOffset": -19},
      "encoding": {"x": {"datum": -7.14, "type": "quantitative"}, "y": {"datum": "t0_Contra", "type": "nominal"}}
     }
    ]
   }
  ]
 }
]
}
